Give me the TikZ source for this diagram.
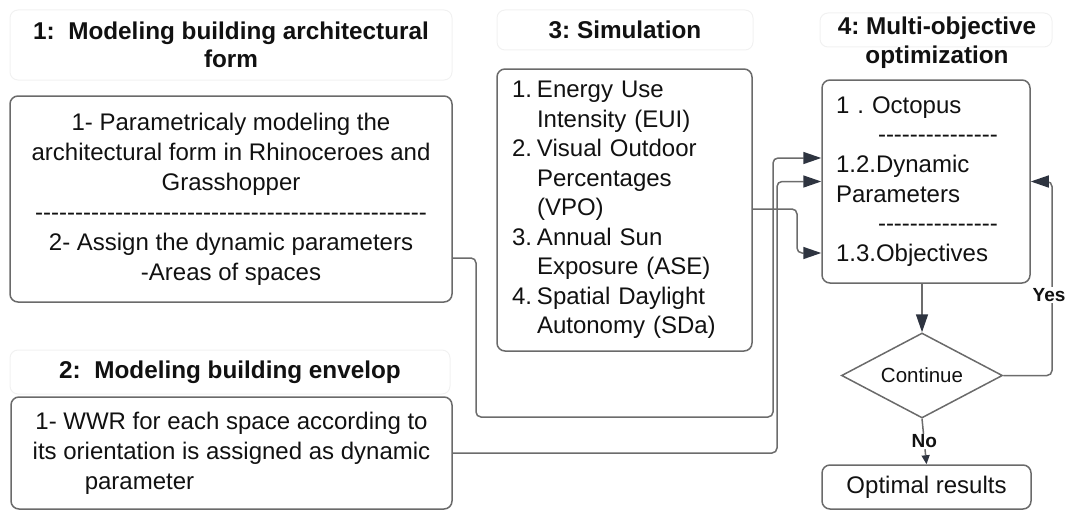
\documentclass[tikz,border=0pt]{standalone}
\usepackage{fontspec}
\setmainfont{Liberation Sans}
\usetikzlibrary{arrows.meta,shapes.geometric,calc}
\definecolor{bordc}{HTML}{6A6A6A}
\definecolor{linec}{HTML}{6C6C6C}
\definecolor{arrc}{HTML}{2E3440}
\definecolor{faint}{HTML}{F1F1F1}
\definecolor{txt}{HTML}{111111}
\newcommand\hyphs[1]{\foreach \i in {1,...,#1}{\mbox{-}}}
\frenchspacing
\begin{document}
\frenchspacing
\begin{tikzpicture}[x=1pt,y=-1pt,
  every node/.style={text=txt},
  box/.style={draw=bordc, line width=1.5pt, rounded corners=8pt, inner sep=0pt,
    font=\fontsize{24}{30}\selectfont},
  ttl/.style={draw=faint, line width=1pt, rounded corners=8pt, inner sep=0pt,
    align=center, font=\bfseries\fontsize{24.3}{28.5}\selectfont},
  conn/.style={draw=linec, line width=1.5pt, rounded corners=5pt},
  arr/.style={conn, -{Triangle[length=18pt,width=12pt,color=arrc]}},
  sarr/.style={conn, -{Triangle[length=9pt,width=8pt,color=arrc]}},
  lbl/.style={fill=white, inner sep=1pt, font=\bfseries\fontsize{19}{22}\selectfont}]
\useasboundingbox (0,0) rectangle (1067,511);

% titles
\node[ttl, minimum width=442pt, minimum height=70pt] (t1) at (231,45)
  {1:\ \ Modeling building architectural\\form};
\node[ttl, minimum width=440pt, minimum height=44pt] (t2) at (230,372)
  {2:\ \ Modeling building envelop};
\node[ttl, minimum width=256pt, minimum height=40pt] (t3) at (625,30)
  {3: Simulation};
\draw[draw=faint, line width=1pt, rounded corners=8pt] (820,13) rectangle (1052,47);
\node[ttl, draw=none] (t4) at (937,42.5)
  {4: Multi-objective\\optimization};

% boxes
\node[box, minimum width=442pt, minimum height=206pt, align=center] (b1) at (231,199)
  {1- Parametricaly modeling the\\
   architectural form in Rhinoceroes and\\
   Grasshopper\\
   \hyphs{49}\\
   2- Assign the dynamic parameters\\
   -Areas of spaces};

\node[box, minimum width=441pt, minimum height=112pt, align=center] (b2) at (231.5,453)
  {1- WWR for each space according to\\
   its orientation is assigned as dynamic\\
   \hspace*{-184pt}parameter};

\node[box, minimum height=282pt, text width=225pt, inner xsep=15pt, align=left,
      font=\fontsize{24}{29.5}\selectfont] (b3) at (624.5,210)
  {\makebox[25pt][l]{1.}Energy Use\\
   \hspace*{25pt}Intensity (EUI)\\
   \makebox[25pt][l]{2.}Visual Outdoor\\
   \hspace*{25pt}Percentages\\
   \hspace*{25pt}(VPO)\\
   \makebox[25pt][l]{3.}Annual Sun\\
   \hspace*{25pt}Exposure (ASE)\\
   \makebox[25pt][l]{4.}Spatial Daylight\\
   \hspace*{25pt}Autonomy (SDa)};

\node[box, minimum height=203pt, text width=180pt, inner xsep=14pt, align=left,
      font=\fontsize{24}{29.6}\selectfont] (b4) at (926,181.5)
  {1\ .\ Octopus\\
   \hspace*{42pt}\hyphs{15}\\
   1.2.Dynamic\\
   Parameters\\
   \hspace*{42pt}\hyphs{15}\\
   1.3.Objectives};

\node[diamond, draw=bordc, line width=1.5pt, aspect=1.9, minimum width=161pt,
      minimum height=85pt, inner sep=0pt, font=\fontsize{20.5}{24}\selectfont]
      (dia) at (922,375.5) {Continue};

\node[box, minimum width=209pt, minimum height=44pt] (opt) at (926.5,487)
  {Optimal results};

% connectors
\draw[arr] ($(b1.east)+(0,59)$) -- (476,258) -- (476,417) -- (773,417) -- (773,158)
  -- ($(b4.west)+(0,-23.5)$);
\draw[arr] (b2.east) -- (777,453) -- (777,181.5) -- (b4.west);
\draw[arr] ($(b3.east)+(0,-1)$) -- (797,209) -- (797,253) -- ($(b4.west)+(0,71.5)$);
\draw[arr] (dia.north |- b4.south) -- (dia.north);
\draw[arr] (dia.east) -- (1052,375.5) -- (1052,181.5) -- (b4.east);
\node[lbl] (yes) at (1049,295) {Yes};
\draw[sarr] (dia.south) -- node[lbl] (no) {No} (opt.north);
\end{tikzpicture}
\end{document}
